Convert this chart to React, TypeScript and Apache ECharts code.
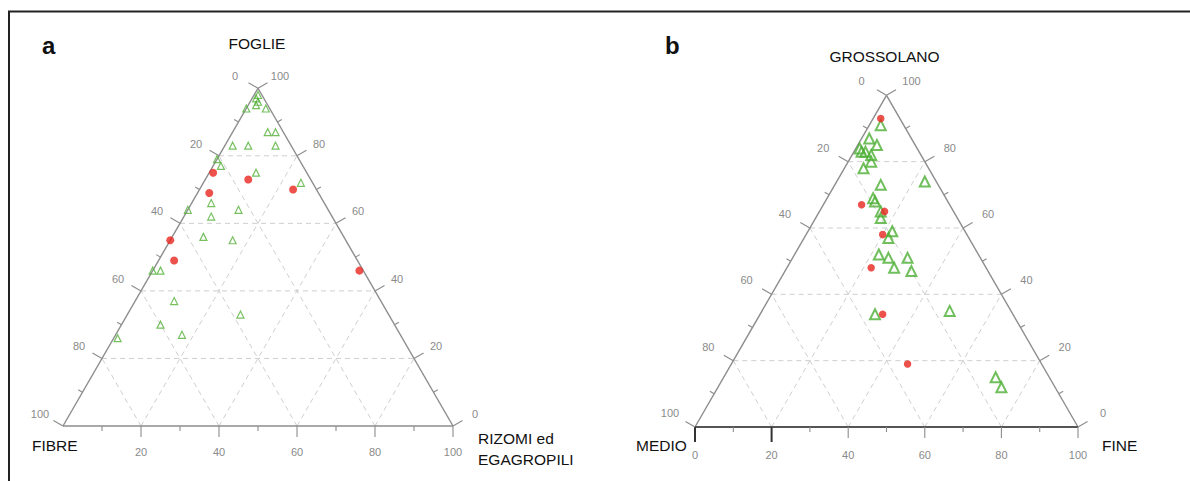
import React, { useEffect, useRef } from "react";
import * as echarts from "echarts";

// Tick values along every side (percent) and the labelled ones
const TICKS = [0, 10, 20, 30, 40, 50, 60, 70, 80, 90, 100];
const MAJOR_TICKS = [0, 20, 40, 60, 80, 100];

// Plot a: [FOGLIE (top), RIZOMI ed EGAGROPILI (right), FIBRE (left)]
const A_GREEN = [
  [96, 2, 2], [97, 1, 2], [98, 1, 1], [95, 2, 3],
  [94, 0, 6], [94, 5, 1], [87, 9, 4], [87, 11, 2], [83, 2, 15], [83, 6, 11], [83, 13, 4],
  [79, 0, 21], [77, 2, 21], [75, 12, 13], [72, 25, 3], [66, 5, 29], [64, 0, 36], [64, 13, 23],
  [62, 7, 31], [56, 8, 36], [55, 16, 29], [46, 0, 54], [46, 2, 52], [37, 10, 53], [33, 29, 38],
  [30, 10, 60], [27, 17, 56], [26, 1, 73],
];
const A_RED = [
  [75, 1, 24], [73, 11, 16], [70, 24, 6], [69, 3, 28], [55, 0, 45], [49, 4, 47], [46, 53, 1],
];

// Plot b: [GROSSOLANO (top), FINE (right), MEDIO (left)]
const B_GREEN = [
  [91, 3, 6], [87, 2, 11], [85, 5, 10], [84, 1, 15], [83, 3, 14], [82, 5, 13], [83, 2, 15],
  [80, 6, 14], [78, 5, 17], [74, 23, 3], [73, 12, 15], [69, 12, 19], [68, 13, 19], [65, 16, 19],
  [63, 17, 20], [59, 22, 19], [57, 22, 21], [52, 22, 26], [51, 25, 24], [51, 30, 19], [48, 28, 24],
  [47, 33, 20], [34, 30, 36], [35, 49, 16], [15, 71, 14], [12, 74, 14],
];
const B_RED = [
  [93, 2, 5], [67, 10, 23], [65, 17, 18], [58, 20, 22], [48, 22, 30], [34, 32, 34], [19, 46, 35],
];

const A_TITLES = { top: "FOGLIE", left: "FIBRE", right1: "RIZOMI ed", right2: "EGAGROPILI", tag: "a" };
const B_TITLES = { top: "GROSSOLANO", left: "MEDIO", right: "FINE", tag: "b" };

const SQ = Math.sqrt(3) / 2;
const toXY = (p: number[]) => [p[1] + p[0] / 2, p[0] * SQ];

const FONT = '"Liberation Sans", Arial, Helvetica, sans-serif';
const EDGE = "#8c8c8c";
const GRIDC = "#cfcfcf";
const LABELC = "#8a8a8a";

type Cfg = {
  lOff: number[];
  rOff: number[];
  bOff: number;
  bottomZero: boolean;
  bottomStroke: string;
  bottomWidth: number;
  darkTicks: number[];
};

const gridRender = (params: any, api: any) => {
  const v = api.value(0);
  const P = (t: number, r: number) => api.coord([r + t / 2, t * SQ]);
  const children: any[] = [];
  if (v % 20 === 0 && v > 0 && v < 100) {
    const segs = [
      [P(v, 0), P(v, 100 - v)],
      [P(0, v), P(100 - v, v)],
      [P(0, 100 - v), P(100 - v, 0)],
    ];
    segs.forEach(([a, b]) =>
      children.push({
        type: "line",
        shape: { x1: a[0], y1: a[1], x2: b[0], y2: b[1] },
        style: { stroke: GRIDC, lineWidth: 1, lineDash: [5, 4] },
      })
    );
  }
  return { type: "group", children };
};

const frameRender = (cfg: Cfg) => (params: any, api: any) => {
  const v = api.value(0);
  const P = (t: number, r: number) => api.coord([r + t / 2, t * SQ]);
  const major = MAJOR_TICKS.indexOf(v) >= 0;
  const len = major ? 11 : 5;
  const children: any[] = [];
  const line = (a: number[], b: number[], stroke: string, w: number) =>
    children.push({
      type: "line",
      shape: { x1: a[0], y1: a[1], x2: b[0], y2: b[1] },
      style: { stroke, lineWidth: w },
    });
  const text = (x: number, y: number, s: string) =>
    children.push({
      type: "text",
      x,
      y,
      style: {
        text: s,
        fill: LABELC,
        font: "11px " + FONT,
        align: "center",
        verticalAlign: "middle",
        textAlign: "center",
        textVerticalAlign: "middle",
      },
    });
  if (v === 0) {
    const bl = P(0, 0), br = P(0, 100), ap = P(100, 0);
    line(bl, ap, EDGE, 1.4);
    line(ap, br, EDGE, 1.4);
    line(bl, br, cfg.bottomStroke, cfg.bottomWidth);
  }
  // left axis (left component = v)
  const pl = P(100 - v, 0);
  line(pl, [pl[0] - 0.866 * len, pl[1] - 0.5 * len], EDGE, 1.1);
  if (major) text(pl[0] + cfg.lOff[0], pl[1] + cfg.lOff[1], String(v));
  // right axis (top component = v)
  const pr = P(v, 100 - v);
  line(pr, [pr[0] + 0.866 * len, pr[1] - 0.5 * len], EDGE, 1.1);
  if (major) text(pr[0] + cfg.rOff[0], pr[1] + cfg.rOff[1], String(v));
  // bottom axis (right component = v)
  if (v > 0 || cfg.bottomZero) {
    const pb = P(0, v);
    const dark = cfg.darkTicks.indexOf(v) >= 0;
    line(pb, [pb[0], pb[1] + (dark ? 15 : len)], dark ? "#333" : EDGE, dark ? 2 : 1.1);
    if (major && (v > 0 || cfg.bottomZero)) text(pb[0], pb[1] + cfg.bOff, String(v));
  }
  return { type: "group", children };
};

const CFG_A: Cfg = {
  lOff: [-23, -12], rOff: [22, -12], bOff: 26, bottomZero: false,
  bottomStroke: EDGE, bottomWidth: 1.4, darkTicks: [],
};
const CFG_B: Cfg = {
  lOff: [-25, -14], rOff: [25, -14], bOff: 28, bottomZero: true,
  bottomStroke: "#555", bottomWidth: 2, darkTicks: [0, 20],
};

export default function App() {
  const ref = useRef<HTMLDivElement>(null);
  useEffect(() => {
    if (!ref.current) return;
    const chart = echarts.init(ref.current, undefined, { renderer: "svg" });
    const tickData = TICKS.map((t) => [t, 0]);
    const wA = 390, wB = 383;
    const label = (x: number, y: number, s: string, opts: any = {}) => ({
      type: "text",
      x,
      y,
      style: {
        text: s,
        fill: "#111",
        font: "15.5px " + FONT,
        align: "left",
        verticalAlign: "middle",
        textAlign: "left",
        textVerticalAlign: "middle",
        ...opts,
      },
    });
    chart.setOption({
      animation: false,
      backgroundColor: "#fff",
      grid: [
        { left: 63, top: 426 - wA * SQ, width: wA, height: wA * SQ },
        { left: 695, top: 427 - wB * SQ, width: wB, height: wB * SQ },
      ],
      xAxis: [
        { type: "value", gridIndex: 0, min: 0, max: 100, show: false },
        { type: "value", gridIndex: 1, min: 0, max: 100, show: false },
      ],
      yAxis: [
        { type: "value", gridIndex: 0, min: 0, max: 100 * SQ, show: false },
        { type: "value", gridIndex: 1, min: 0, max: 100 * SQ, show: false },
      ],
      graphic: [
        { type: "line", shape: { x1: 8, y1: 11.5, x2: 1190, y2: 11.5 }, style: { stroke: "#222", lineWidth: 2 } },
        { type: "line", shape: { x1: 9, y1: 11, x2: 9, y2: 481 }, style: { stroke: "#222", lineWidth: 2 } },
        label(42, 45.6, A_TITLES.tag, { font: "bold 24px " + FONT }),
        label(665, 45.6, B_TITLES.tag, { font: "bold 24px " + FONT }),
        label(257, 43, A_TITLES.top, { align: "center", textAlign: "center" }),
        label(32, 445.3, A_TITLES.left),
        label(478, 438, A_TITLES.right1),
        label(478, 459, A_TITLES.right2),
        label(884.5, 56.7, B_TITLES.top, { align: "center", textAlign: "center" }),
        label(636, 445.8, B_TITLES.left),
        label(1102, 445.8, B_TITLES.right),
      ],
      series: [
        { type: "custom", xAxisIndex: 0, yAxisIndex: 0, data: tickData, renderItem: gridRender, z: 1, silent: true },
        { type: "custom", xAxisIndex: 1, yAxisIndex: 1, data: tickData, renderItem: gridRender, z: 1, silent: true },
        { type: "custom", xAxisIndex: 0, yAxisIndex: 0, data: tickData, renderItem: frameRender(CFG_A), z: 2, silent: true },
        { type: "custom", xAxisIndex: 1, yAxisIndex: 1, data: tickData, renderItem: frameRender(CFG_B), z: 2, silent: true },
        {
          type: "scatter", xAxisIndex: 0, yAxisIndex: 0, data: A_GREEN.map(toXY), z: 3,
          symbol: "triangle", symbolSize: 7,
          itemStyle: { color: "rgba(0,0,0,0)", borderColor: "#55b038", borderWidth: 1.2 },
        },
        {
          type: "scatter", xAxisIndex: 0, yAxisIndex: 0, data: A_RED.map(toXY), z: 4,
          symbol: "circle", symbolSize: 8, itemStyle: { color: "#e8261e" },
        },
        {
          type: "scatter", xAxisIndex: 1, yAxisIndex: 1, data: B_GREEN.map(toXY), z: 3,
          symbol: "triangle", symbolSize: 10,
          itemStyle: { color: "rgba(0,0,0,0)", borderColor: "#4caf33", borderWidth: 2 },
        },
        {
          type: "scatter", xAxisIndex: 1, yAxisIndex: 1, data: B_RED.map(toXY), z: 4,
          symbol: "circle", symbolSize: 7.5, itemStyle: { color: "#e8261e" },
        },
      ],
    });
    return () => chart.dispose();
  }, []);
  return (
    <div
      ref={ref}
      style={{ position: "fixed", left: 0, top: 0, width: 1190, height: 481, background: "#fff" }}
    />
  );
}
